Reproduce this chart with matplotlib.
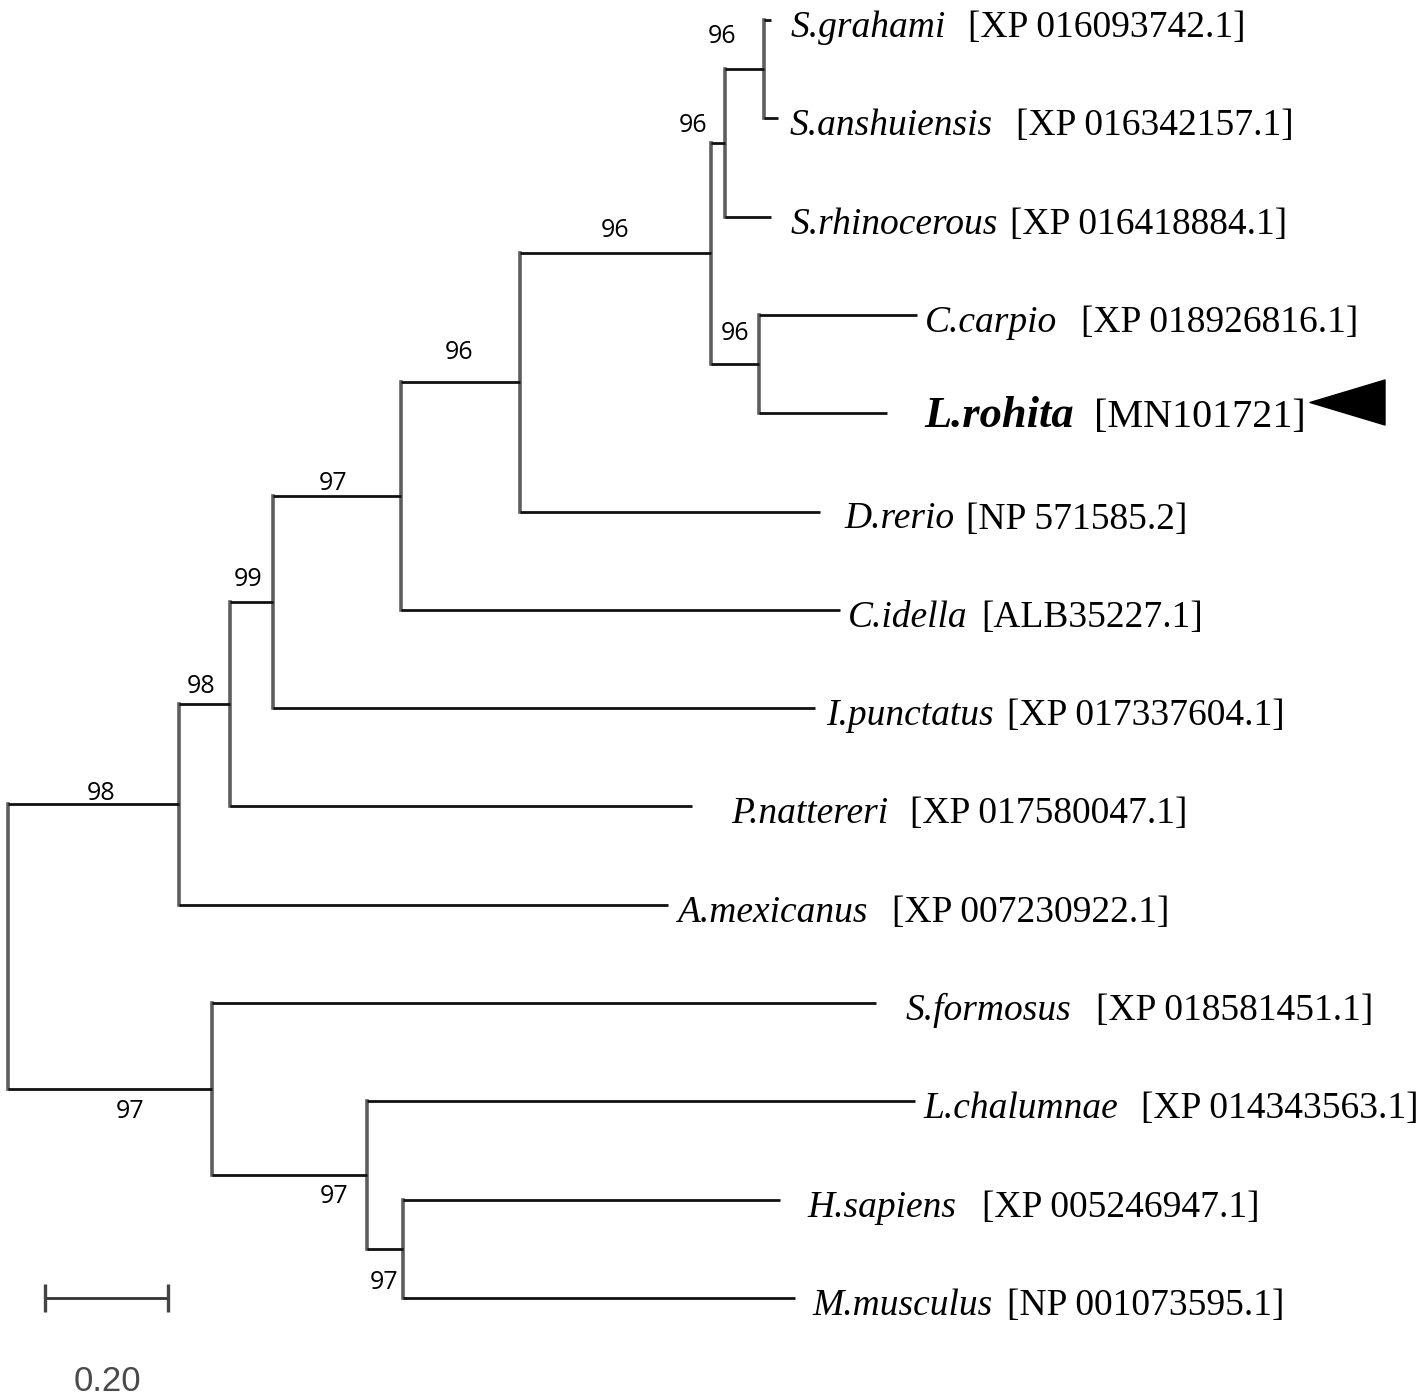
import matplotlib
matplotlib.use("Agg")
import matplotlib.pyplot as plt
from matplotlib.path import Path
from matplotlib.transforms import offset_copy

# leaves, top to bottom
taxa = ["S.grahami", "S.anshuiensis", "S.rhinocerous", "C.carpio", "L.rohita",
        "D.rerio", "C.idella", "I.punctatus", "P.nattereri", "A.mexicanus",
        "S.formosus", "L.chalumnae", "H.sapiens", "M.musculus"]
accessions = ["[XP 016093742.1]", "[XP 016342157.1]", "[XP 016418884.1]",
              "[XP 018926816.1]", "[MN101721]", "[NP 571585.2]", "[ALB35227.1]",
              "[XP 017337604.1]", "[XP 017580047.1]", "[XP 007230922.1]",
              "[XP 018581451.1]", "[XP 014343563.1]", "[XP 005246947.1]",
              "[NP 001073595.1]"]
leaf_parent = ["H", "H", "G", "I", "I", "E", "D", "C", "B", "A", "J", "K", "L", "L"]
leaf_length = [0.012, 0.023, 0.075, 0.257, 0.208, 0.487, 0.714, 0.881, 0.751,
               0.795, 1.080, 0.891, 0.613, 0.638]

# internal nodes (parents listed before children)
node_names = ["root", "A", "B", "C", "D", "E", "F", "G", "H", "I", "J", "K", "L"]
node_parent = [None, "root", "A", "B", "C", "D", "E", "F", "G", "F", "root", "J", "K"]
node_length = [0.0, 0.278, 0.083, 0.070, 0.208, 0.194, 0.310, 0.023, 0.063,
               0.078, 0.332, 0.252, 0.058]
node_support = [None, 98, 98, 99, 97, 96, 96, 96, 96, 96, 97, 97, 97]

scale_value = 0.20
highlight = "L.rohita"

# layout (pixels)
px_per_unit = 615
row_px = 98.3
name_gap = [19, 12, 19, 8, 37, 25, 8, 11, 39, 9, 29, 8, 28, 17]
acc_gap = [23, 23, 12, 24, 21, 11, 14, 13, 22, 25, 25, 23, 25, 15]
support_offset = {"A": (8, 11), "B": (-3, 18), "C": (-3, 23), "D": (-4, 13),
                  "E": (-2, 30), "F": (-1, 23), "G": (-25, 17), "H": (-22, 33),
                  "I": (0, 31), "J": (20, -22), "K": (44, -21), "L": (-1, -34)}

fig = plt.figure(figsize=(14.18, 14.0), dpi=100)
ax = fig.add_axes([0, 0, 1, 1])
ax.set_xlim(-8 / px_per_unit, (1418 - 8) / px_per_unit)
ax.set_ylim((1400 - 20) / row_px, -20 / row_px)
ax.axis("off")

# x positions
nx = {}
for name, par, ln in zip(node_names, node_parent, node_length):
    nx[name] = 0.0 if par is None else nx[par] + ln
leaf_x = [nx[p] + ln for p, ln in zip(leaf_parent, leaf_length)]

# y positions
children = {n: [] for n in node_names}
for i, p in enumerate(leaf_parent):
    children[p].append(("leaf", i))
for n, p in zip(node_names, node_parent):
    if p is not None:
        children[p].append(("node", n))
ny = {}
for n in reversed(node_names):
    ys = [i if kind == "leaf" else ny[i] for kind, i in children[n]]
    ny[n] = (min(ys) + max(ys)) / 2

hcol, vcol = "#111111", "#5e5e5e"

# vertical lines
for n in node_names:
    ys = [i if kind == "leaf" else ny[i] for kind, i in children[n]]
    ax.plot([nx[n], nx[n]], [min(ys), max(ys)], color=vcol, lw=2.6,
            solid_capstyle="projecting", zorder=2)

# horizontal branches
for n, p in zip(node_names, node_parent):
    if p is not None:
        ax.plot([nx[p], nx[n]], [ny[n], ny[n]], color=hcol, lw=2.0,
                solid_capstyle="butt", zorder=3)
for i, p in enumerate(leaf_parent):
    ax.plot([nx[p], leaf_x[i]], [i, i], color=hcol, lw=2.0,
            solid_capstyle="butt", zorder=3)

# bootstrap values
for n, p, s in zip(node_names, node_parent, node_support):
    if s is None:
        continue
    dx, dy = support_offset[n]
    ax.annotate(str(s), xy=((nx[p] + nx[n]) / 2, ny[n]), xytext=(dx, dy),
                textcoords="offset pixels", ha="center", va="center",
                fontsize=18, family=["Open Sans", "DejaVu Sans"], color="black")

# leaf labels
for i, (t, acc) in enumerate(zip(taxa, accessions)):
    if t == highlight:
        txt = ax.annotate(t, xy=(leaf_x[i], i), xytext=(name_gap[i], -14),
                          textcoords="offset pixels", ha="left", va="baseline",
                          fontsize=32, family="Liberation Serif",
                          style="italic", weight="bold")
        asize, ady = 29, -14
    else:
        txt = ax.annotate(t, xy=(leaf_x[i], i), xytext=(name_gap[i], -17),
                          textcoords="offset pixels", ha="left", va="baseline",
                          fontsize=27, family="Liberation Serif", style="italic")
        asize, ady = 27, -17
    ax.annotate(acc, xy=(1, i), xycoords=(txt, ax.transData),
                xytext=(acc_gap[i], ady), textcoords="offset pixels",
                ha="left", va="baseline", fontsize=asize,
                family="Liberation Serif")

# arrow marker next to the highlighted taxon
hi = taxa.index(highlight)
tri = Path([(-1, 0), (1, 0.6), (1, -0.6), (-1, 0)],
           [Path.MOVETO, Path.LINETO, Path.LINETO, Path.CLOSEPOLY])
ax.plot([2.178], [hi], marker=tri, markersize=54, color="black", lw=0,
        transform=offset_copy(ax.transData, fig=fig, x=0, y=11, units="dots"))

# scale bar
sb_x0 = 37 / px_per_unit
sb_y = len(taxa) - 1
ax.plot([sb_x0, sb_x0 + scale_value], [sb_y, sb_y], color="#333333", lw=2.0,
        solid_capstyle="butt")
for xx in (sb_x0, sb_x0 + scale_value):
    ax.plot([xx], [sb_y], marker="|", markersize=20, markeredgewidth=2.4,
            color="#444444")
ax.annotate(f"{scale_value:.2f}", xy=(sb_x0 + scale_value / 2, sb_y),
            xytext=(1, -84), textcoords="offset pixels", ha="center",
            va="center", fontsize=25, color="#4a4a4a",
            family=["Liberation Sans Narrow", "Liberation Sans", "DejaVu Sans"])

fig.savefig("out.png", dpi=100)
